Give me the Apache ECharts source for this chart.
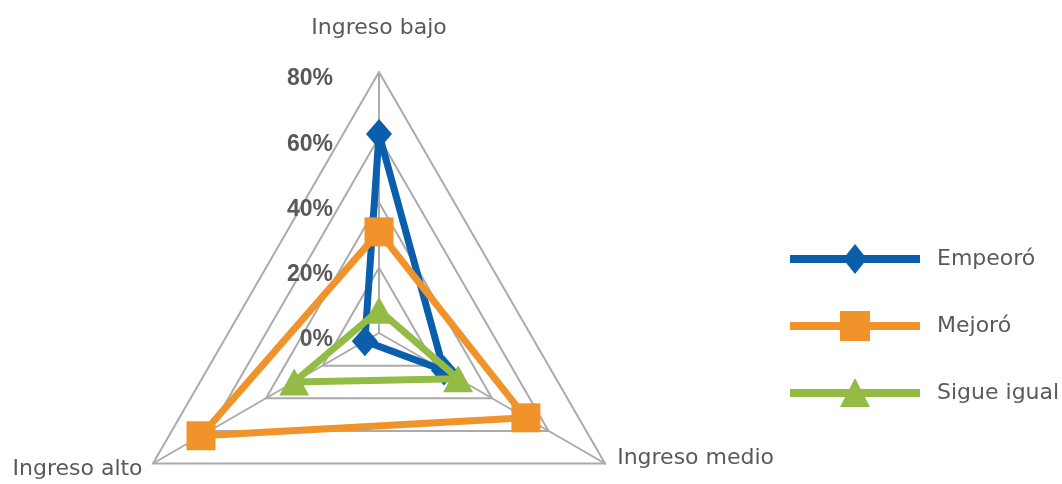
<!DOCTYPE html>
<html>
<head>
<meta charset="utf-8">
<script src="https://cdn.jsdelivr.net/npm/echarts@6/dist/echarts.min.js"></script>
<style>
html,body{margin:0;padding:0;background:#fff;}
#chart{width:1062px;height:484px;}
</style>
</head>
<body>
<div id="chart"></div>
<script>
// Data (natural order: bajo, medio, alto)
const categories = ['Ingreso bajo', 'Ingreso medio', 'Ingreso alto'];
const seriesNames = ['Empeoró', 'Mejoró', 'Sigue igual'];
const empeoro = [61, 23, 5];
const mejoro = [31, 52, 63];
const sigueIgual = [7, 28, 30];
const axisMax = 80;

// ECharts draws indicators counter-clockwise: place bajo (top), alto (lower-left), medio (lower-right)
const order = [0, 2, 1];
const colors = ['#0A5EAB', '#F0932B', '#94BB46'];
const symbols = ['diamond', 'rect', 'triangle'];
const symbolSizes = [[26, 30], 29, [30, 27]];
const values = [empeoro, mejoro, sigueIgual];
const nameGaps = [32, 14, 12];

const indicator = order.map((ci, k) => {
  const ind = {
    name: categories[ci],
    max: axisMax,
    min: 0,
    nameGap: nameGaps[ci]
  };
  if (k === 0) {
    ind.axisLabel = {
      show: true,
      margin: 46,
      formatter: v => ' \n' + v + '%',
      color: '#595959',
      fontFamily: 'Liberation Sans',
      fontWeight: 'bold',
      fontSize: 23,
      lineHeight: 14
    };
  }
  return ind;
});

const legendIcons = [
  'path://M0,11L130,11L130,19L0,19Z M65,0L77,15L65,30L53,15Z',
  'path://M0,11L130,11L130,19L0,19Z M50,0L80,0L80,30L50,30Z',
  'path://M0,11L130,11L130,19L0,19Z M65,0L80,29L50,29Z M0,30L0,30'
];

const chart = echarts.init(document.getElementById('chart'), null, { renderer: 'canvas' });
chart.setOption({
  backgroundColor: '#ffffff',
  animation: false,
  legend: {
    orient: 'vertical',
    left: 785,
    top: 239,
    itemWidth: 130,
    itemHeight: 30,
    itemGap: 37,
    data: seriesNames.map((n, i) => ({ name: n, icon: legendIcons[i], itemStyle: { color: colors[i], borderWidth: 0 } })),
    textStyle: {
      fontFamily: 'DejaVu Sans',
      fontSize: 22,
      color: '#5a5a5a',
      padding: [0, 0, 0, 12]
    }
  },
  radar: {
    center: [379, 333],
    radius: 261,
    startAngle: 90,
    shape: 'polygon',
    splitNumber: 4,
    indicator: indicator,
    axisName: {
      color: '#5a5a5a',
      fontFamily: 'DejaVu Sans',
      fontSize: 22,
      lineHeight: 24,
      formatter: name => name === categories[1] ? name + '\n ' : name
    },
    axisLabel: { show: false },
    axisTick: { show: false },
    axisLine: { lineStyle: { color: '#ABABAB', width: 2 } },
    splitLine: { lineStyle: { color: '#ABABAB', width: 2 } },
    splitArea: { show: false }
  },
  series: seriesNames.map((n, i) => ({
    type: 'radar',
    name: n,
    symbol: symbols[i],
    symbolSize: symbolSizes[i],
    lineStyle: { color: colors[i], width: 7 },
    itemStyle: { color: colors[i], borderWidth: 0 },
    z: 2 + i,
    data: [{ name: n, value: order.map(ci => values[i][ci]) }]
  }))
});
</script>
</body>
</html>
